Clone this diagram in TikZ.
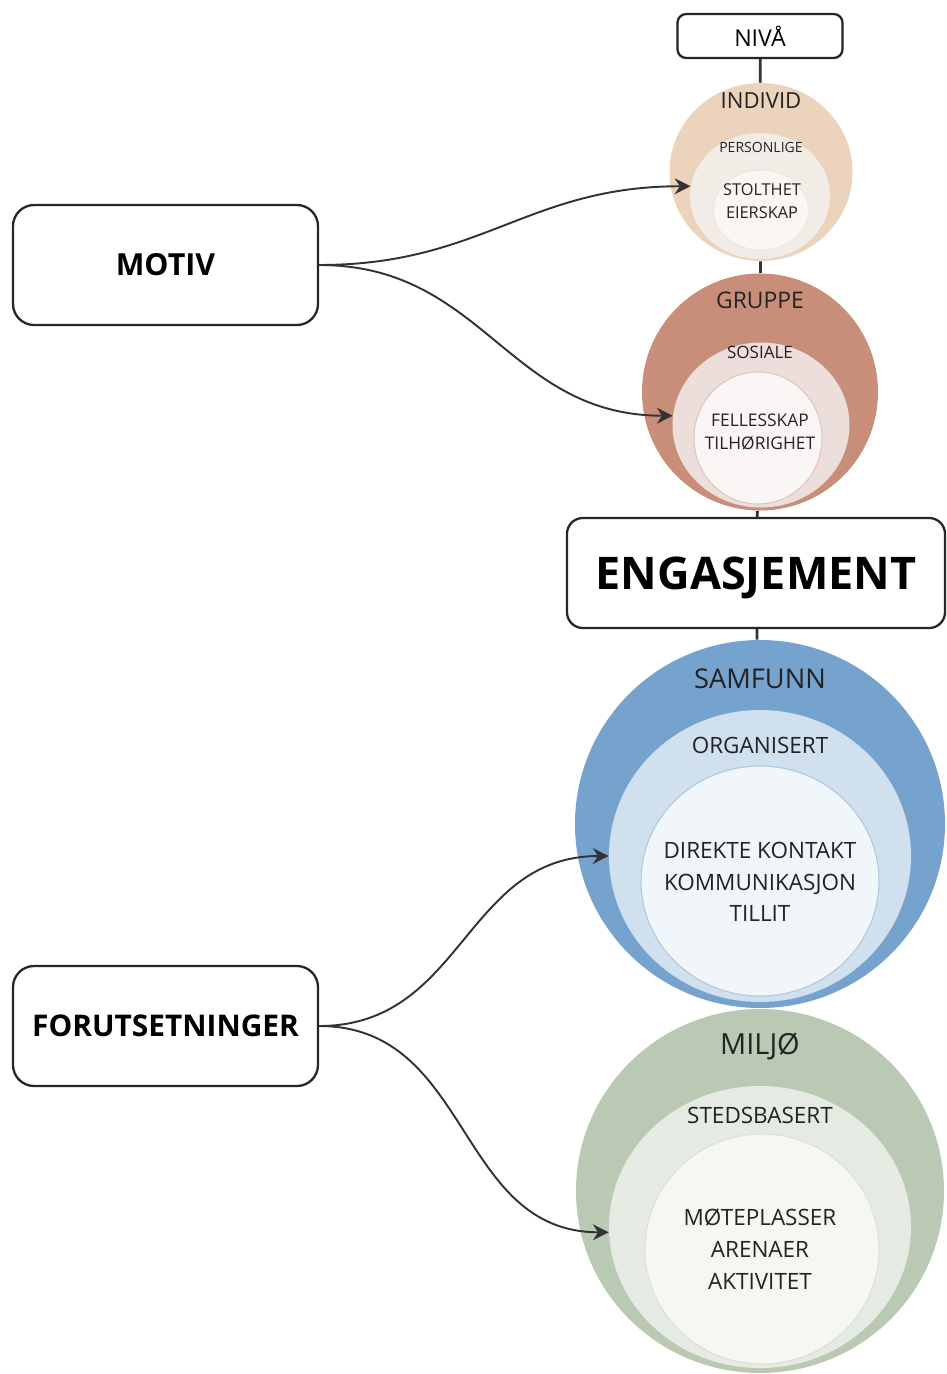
\documentclass[tikz,border=0pt]{standalone}
\usepackage{fontspec}
\setmainfont{Open Sans}
\usetikzlibrary{arrows.meta,shapes.geometric,positioning}

\newlength{\pxl}
\setlength{\pxl}{0.02cm}

\tikzset{
    box/.style={draw=black!85, line width=1.3pt, fill=white, inner sep=0pt},
    ring/.style={ellipse, inner sep=0pt, draw=none},
    lbl/.style={text=txt, align=center, inner sep=0pt},
    link/.style={draw=black!80, line width=1.6pt},
    flow/.style={draw=black!80, line width=1.1pt, -{Stealth[length=9pt,width=9pt]}, out=0, in=180, looseness=1.1}
}

\begin{document}
\begin{tikzpicture}[x=0.02cm, y=-0.02cm]
        % Define colors
        \definecolor{txt}{RGB}{35, 35, 35}
        \definecolor{indA}{RGB}{236, 212, 188}
        \definecolor{indB}{RGB}{242, 236, 231}
        \definecolor{indC}{RGB}{249, 246, 244}
        \definecolor{grpA}{RGB}{201, 142, 122}
        \definecolor{grpB}{RGB}{236, 222, 219}
        \definecolor{grpC}{RGB}{250, 246, 245}
        \definecolor{samA}{RGB}{118, 163, 205}
        \definecolor{samB}{RGB}{208, 224, 238}
        \definecolor{samC}{RGB}{241, 246, 251}
        \definecolor{milA}{RGB}{186, 201, 180}
        \definecolor{milB}{RGB}{229, 234, 227}
        \definecolor{milC}{RGB}{246, 247, 243}

        \useasboundingbox (0,0) rectangle (947,1374);

        % --- LEFT BOXES ---
        \node[box, rounded corners=12pt, minimum width=305\pxl, minimum height=120\pxl,
              font=\bfseries\fontsize{17.3}{19}\selectfont] (motiv) at (165.5,265) {MOTIV};
        \node[box, rounded corners=12pt, minimum width=305\pxl, minimum height=120\pxl,
              font=\bfseries\fontsize{17}{19}\selectfont] (forut) at (165.5,1026) {FORUTSETNINGER};

        % --- TOP / MIDDLE BOXES ---
        \node[box, rounded corners=5pt, minimum width=165\pxl, minimum height=44\pxl,
              font=\fontsize{13.2}{15}\selectfont] (niva) at (760,36) {NIVÅ};
        \node[box, rounded corners=9pt, minimum width=378\pxl, minimum height=110\pxl,
              text height=18.4pt, text depth=0pt,
              font=\bfseries\fontsize{25.6}{30}\selectfont] (engasj) at (756,573) {ENGASJEMENT};

        % --- INDIVID ---
        \node[ring, fill=indA, minimum width=183\pxl, minimum height=178\pxl] (indout) at (761,172) {};
        \node[ring, fill=indB, minimum width=140\pxl, minimum height=126\pxl] (indmid) at (760,196) {};
        \node[ring, fill=indC, draw=indB!80!indA, line width=0.6pt,
              minimum width=95\pxl, minimum height=80\pxl] (indin) at (761,210) {};
        \node[lbl, font=\fontsize{12.6}{14}\selectfont] at (761,101) {INDIVID};
        \node[lbl, font=\fontsize{8}{10}\selectfont] at (761,147) {PERSONLIGE};
        \node[lbl, font=\fontsize{9.3}{13}\selectfont] at (762,201) {STOLTHET\\EIERSKAP};

        % --- GRUPPE ---
        \node[ring, fill=grpA, minimum width=236\pxl, minimum height=237\pxl] (grpout) at (760,392) {};
        \node[ring, fill=grpB, minimum width=177\pxl, minimum height=165\pxl] (grpmid) at (761,425) {};
        \node[ring, fill=grpC, draw=grpB!70!grpA, line width=0.6pt,
              minimum width=128\pxl, minimum height=132\pxl] (grpin) at (758,438) {};
        \node[lbl, font=\fontsize{13}{15}\selectfont] at (760,300) {GRUPPE};
        \node[lbl, font=\fontsize{9.7}{11}\selectfont] at (760,352) {SOSIALE};
        \node[lbl, font=\fontsize{9.9}{13.5}\selectfont] at (760,432) {FELLESSKAP\\TILHØRIGHET};

        % --- MILJØ ---
        \node[ring, fill=milA, minimum width=368\pxl, minimum height=364\pxl] (milout) at (760,1191) {};
        \node[ring, fill=milB, minimum width=302\pxl, minimum height=282\pxl] (milmid) at (760,1227) {};
        \node[ring, fill=milC, draw=milB!75!milA, line width=0.6pt,
              minimum width=234\pxl, minimum height=230\pxl] (milin) at (762,1249) {};
        \node[lbl, font=\fontsize{16.5}{18}\selectfont] at (760,1046) {MILJØ};
        \node[lbl, font=\fontsize{12.8}{14}\selectfont] at (760,1115) {STEDSBASERT};
        \node[lbl, font=\fontsize{12.8}{18}\selectfont] at (760,1249) {MØTEPLASSER\\ARENAER\\AKTIVITET};

        % --- SAMFUNN ---
        \node[ring, fill=samA, minimum width=370\pxl, minimum height=368\pxl] (samout) at (760,824) {};
        \node[ring, fill=samB, minimum width=302\pxl, minimum height=292\pxl] (sammid) at (760,856) {};
        \node[ring, fill=samC, draw=samA!60, line width=0.6pt,
              minimum width=238\pxl, minimum height=230\pxl] (samin) at (760,881) {};
        \node[lbl, font=\fontsize{15.5}{17}\selectfont] at (760,679) {SAMFUNN};
        \node[lbl, font=\fontsize{12.8}{15}\selectfont] at (760,745) {ORGANISERT};
        \node[lbl, font=\fontsize{12.8}{18}\selectfont] at (760,882) {DIREKTE KONTAKT\\KOMMUNIKASJON\\TILLIT};

        % Vertical links between levels
        \draw[link] (niva) -- (indout);
        \draw[link] (indout) -- (grpout);
        \draw[link] (grpout) -- (engasj);
        \draw[link] (engasj) -- (samout);

        % Arrows from the left boxes
        \draw[flow] (motiv.east) to (indmid.172);
        \draw[flow] (motiv.east) to (grpmid.174);
        \draw[flow] (forut.east) to (sammid.west);
        \draw[flow] (forut.east) to (milmid.182);

    \end{tikzpicture}
\end{document}
